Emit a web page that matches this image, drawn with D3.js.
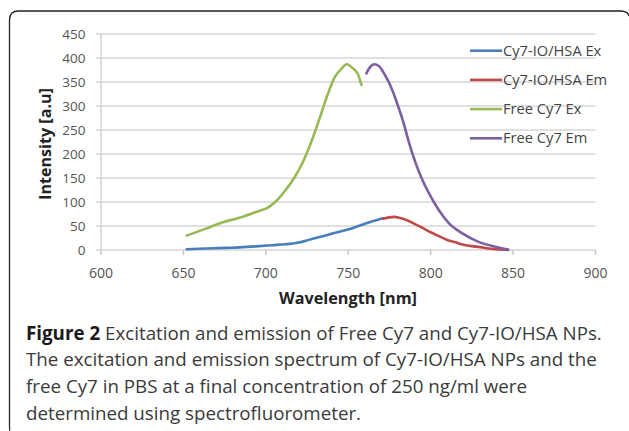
<!DOCTYPE html>
<html>
<head>
<meta charset="utf-8">
<script src="https://cdn.jsdelivr.net/npm/d3@7"></script>
<style>
  html, body { margin: 0; padding: 0; background: #fff; }
  svg { display: block; }
</style>
</head>
<body>
<svg id="chart" width="629" height="431"></svg>
<script>
// ---- data ----
const seriesNames = ["Cy7-IO/HSA Ex", "Cy7-IO/HSA Em", "Free Cy7 Ex", "Free Cy7 Em"];
const seriesColors = ["#4a7ebb", "#be4b48", "#98b954", "#7d60a0"];

const ioExWave = [652, 664, 676, 684, 694, 704, 712, 719, 724, 729, 735, 741, 747, 753, 757, 763, 767, 771];
const ioExVal  = [1.5, 3, 4.5, 5.5, 7.5, 10, 12, 15, 19, 24, 29, 35, 40, 46, 51, 58, 62, 66];

const ioEmWave = [771, 775, 778, 781, 785, 790, 795, 800, 805, 810, 815, 820, 825, 830, 835, 840, 847];
const ioEmVal  = [65, 68, 69, 67, 63, 55, 46, 37, 29, 21, 16, 11, 8, 6, 3, 1.5, 0];

const freeExWave = [652, 664, 674, 684, 694, 702, 706, 712, 717, 723, 728, 733, 737, 742, 746, 749, 753, 756, 758];
const freeExVal  = [30, 45, 58, 67, 79, 90, 101, 125, 149, 187, 229, 278, 319, 361, 378, 387, 378, 365, 344];

const freeEmWave = [761, 763, 766, 769, 771, 775, 779, 783, 787, 791, 795, 799, 805, 811, 819, 829, 839, 847];
const freeEmVal  = [368, 380, 387, 382, 372, 347, 312, 271, 222, 180, 146, 118, 83, 56, 35, 17, 7, 1];

const xTicks = [600, 650, 700, 750, 800, 850, 900];
const yTicks = [0, 50, 100, 150, 200, 250, 300, 350, 400, 450];

const xTitle = "Wavelength [nm]";
const yTitle = "Intensity [a.u]";
const captionBold = "Figure 2";
const captionLines = [
  " Excitation and emission of Free Cy7 and Cy7-IO/HSA NPs.",
  "The excitation and emission spectrum of Cy7-IO/HSA NPs and the",
  "free Cy7 in PBS at a final concentration of 250 ng/ml were",
  "determined using spectrofluorometer."
];

const series = [
  {name: seriesNames[0], color: seriesColors[0], wave: ioExWave, val: ioExVal},
  {name: seriesNames[1], color: seriesColors[1], wave: ioEmWave, val: ioEmVal},
  {name: seriesNames[2], color: seriesColors[2], wave: freeExWave, val: freeExVal},
  {name: seriesNames[3], color: seriesColors[3], wave: freeEmWave, val: freeEmVal}
];

// ---- drawing ----
const svg = d3.select("#chart");
const chartFont = "'Open Sans', 'Noto Sans', sans-serif";
const capFont = "'Open Sans', 'Noto Sans', sans-serif";

function fitWidth(sel, target) {
  const node = sel.node();
  const fs = parseFloat(sel.attr("font-size"));
  const w = node.getBBox().width;
  if (w > 0) sel.attr("font-size", (fs * target / w).toFixed(2));
}

// frame
svg.append("path")
  .attr("d", "M 10 431 Q 9.5 431 9.5 425 L 9.5 20 Q 9.5 11 18.5 11 L 620 11 Q 628 11 629 16")
  .attr("fill", "none").attr("stroke", "#222").attr("stroke-width", 1.3);

const x = d3.scaleLinear().domain([600, 900]).range([101, 595.5]);
const y = d3.scaleLinear().domain([0, 450]).range([250, 34]);

// gridlines
svg.append("g").selectAll("line").data(yTicks).join("line")
  .attr("x1", 96).attr("x2", 595.5)
  .attr("y1", d => y(d)).attr("y2", d => y(d))
  .attr("stroke", "#d6d6d6").attr("stroke-width", 1.5);

// y axis line
svg.append("line").attr("x1", 101).attr("x2", 101).attr("y1", y(450)).attr("y2", y(0))
  .attr("stroke", "#d0d0d0").attr("stroke-width", 1.5);

// x ticks
svg.append("g").selectAll("line").data(xTicks).join("line")
  .attr("x1", d => x(d)).attr("x2", d => x(d))
  .attr("y1", y(0)).attr("y2", y(0) + 5)
  .attr("stroke", "#c8c8c8").attr("stroke-width", 1.5);

// y tick labels
svg.append("g").selectAll("text").data(yTicks).join("text")
  .attr("x", 85.5).attr("y", d => y(d)).attr("dy", "0.35em")
  .attr("text-anchor", "end")
  .attr("font-family", chartFont).attr("font-size", 13.5).attr("fill", "#555")
  .text(d => d);

// x tick labels
svg.append("g").selectAll("text").data(xTicks).join("text")
  .attr("x", d => x(d)).attr("y", 273).attr("dy", "0.35em")
  .attr("text-anchor", "middle")
  .attr("font-family", chartFont).attr("font-size", 14).attr("fill", "#555")
  .text(d => d);

// axis titles
const xt = svg.append("text").attr("x", 348).attr("y", 298).attr("dy", "0.35em")
  .attr("text-anchor", "middle").attr("font-family", chartFont)
  .attr("font-weight", "bold").attr("font-size", 15).attr("fill", "#222")
  .text(xTitle);
fitWidth(xt, 138);
const yt = svg.append("text").attr("transform", "translate(45,144) rotate(-90)").attr("dy", "0.35em")
  .attr("text-anchor", "middle").attr("font-family", chartFont)
  .attr("font-weight", "bold").attr("font-size", 15).attr("fill", "#222")
  .text(yTitle);
fitWidth(yt, 112);

// series lines
const line = d3.line().x(d => x(d[0])).y(d => y(d[1])).curve(d3.curveMonotoneX);
svg.append("g").selectAll("path").data(series).join("path")
  .attr("d", s => line(s.wave.map((w, i) => [w, s.val[i]])))
  .attr("fill", "none").attr("stroke", s => s.color)
  .attr("stroke-width", 2.6).attr("stroke-linejoin", "round").attr("stroke-linecap", "round");

// legend
const leg = svg.append("g").selectAll("g").data(series).join("g")
  .attr("transform", (s, i) => `translate(470, ${50.7 + i * 29.2})`);
leg.append("line").attr("x1", 0).attr("x2", 32).attr("y1", 0).attr("y2", 0)
  .attr("stroke", s => s.color).attr("stroke-width", 2.6);
const legText = leg.append("text").attr("x", 33).attr("y", 0).attr("dy", "0.35em")
  .attr("font-family", chartFont).attr("font-size", 14).attr("fill", "#444")
  .text(s => s.name);
{
  const w = legText.nodes()[0].getBBox().width;
  if (w > 0) legText.attr("font-size", (14 * 99 / w).toFixed(2));
}

// caption
const cap = svg.append("g");
const capTexts = [];
captionLines.forEach((ln, i) => {
  const t = cap.append("text").attr("x", 26).attr("y", 333 + i * 26.7).attr("dy", "0.35em")
    .attr("font-family", capFont).attr("font-size", 18).attr("fill", "#3a3a3a");
  if (i === 0) {
    t.append("tspan").attr("font-weight", "bold").attr("fill", "#1a1a1a").text(captionBold);
  }
  t.append("tspan").text(ln);
  capTexts.push(t);
});
{
  const w = capTexts[0].node().getBBox().width;
  const fs = (18 * 576 / w).toFixed(2);
  capTexts.forEach(t => t.attr("font-size", fs));
}
</script>
</body>
</html>
